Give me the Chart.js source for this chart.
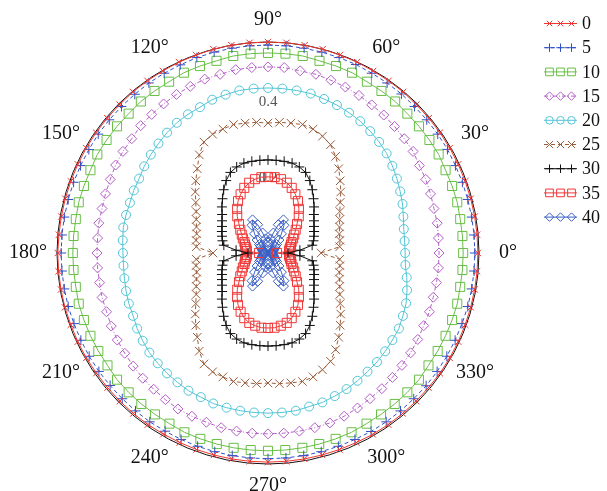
<!DOCTYPE html>
<html>
<head>
<meta charset="utf-8">
<script src="https://cdn.jsdelivr.net/npm/chart.js@4.4.1/dist/chart.umd.min.js"></script>
<style>html,body{margin:0;background:#fff}</style>
</head>
<body>
<canvas id="polar" width="607" height="491"></canvas>
<script>
// angles in degrees, counter-clockwise from the right (0..355)
const ANGLES = [
    0,5,10,15,20,25,30,35,40,45,50,55,
    60,65,70,75,80,85,90,95,100,105,110,115,
    120,125,130,135,140,145,150,155,160,165,170,175,
    180,185,190,195,200,205,210,215,220,225,230,235,
    240,245,250,255,260,265,270,275,280,285,290,295,
    300,305,310,315,320,325,330,335,340,345,350,355
];
const SERIES_NAMES = ['0','5','10','15','20','25','30','35','40'];

const s0 = [
    0.557,0.557,0.557,0.557,0.557,0.557,0.557,0.557,0.557,0.557,0.558,0.558,
    0.558,0.559,0.559,0.560,0.560,0.560,0.560,0.560,0.560,0.560,0.559,0.559,
    0.558,0.558,0.558,0.557,0.557,0.557,0.557,0.557,0.557,0.557,0.557,0.557,
    0.558,0.558,0.558,0.558,0.557,0.557,0.557,0.556,0.556,0.556,0.556,0.556,
    0.555,0.555,0.555,0.555,0.555,0.555,0.555,0.555,0.555,0.555,0.555,0.555,
    0.556,0.556,0.556,0.556,0.556,0.557,0.557,0.557,0.557,0.557,0.557,0.557
];
const s5 = [
    0.549,0.549,0.549,0.549,0.549,0.549,0.550,0.550,0.550,0.550,0.551,0.551,
    0.551,0.552,0.552,0.552,0.552,0.552,0.552,0.552,0.552,0.552,0.552,0.551,
    0.551,0.551,0.550,0.550,0.550,0.550,0.549,0.549,0.549,0.549,0.549,0.549,
    0.549,0.549,0.549,0.549,0.548,0.548,0.548,0.548,0.547,0.547,0.547,0.547,
    0.546,0.546,0.546,0.546,0.546,0.546,0.546,0.546,0.546,0.546,0.546,0.546,
    0.547,0.547,0.547,0.547,0.548,0.548,0.548,0.548,0.548,0.549,0.549,0.549
];
const s10 = [
    0.518,0.518,0.518,0.520,0.520,0.520,0.523,0.523,0.523,0.523,0.525,0.525,
    0.525,0.528,0.528,0.528,0.531,0.531,0.531,0.531,0.531,0.528,0.528,0.528,
    0.525,0.525,0.525,0.523,0.523,0.523,0.523,0.520,0.520,0.520,0.518,0.518,
    0.518,0.518,0.518,0.520,0.520,0.520,0.520,0.520,0.523,0.523,0.523,0.523,
    0.523,0.525,0.525,0.525,0.525,0.525,0.525,0.525,0.525,0.525,0.525,0.525,
    0.523,0.523,0.523,0.523,0.523,0.520,0.520,0.520,0.520,0.520,0.518,0.518
];
const s15 = [
    0.454,0.454,0.456,0.456,0.459,0.462,0.464,0.470,0.472,0.475,0.478,0.480,
    0.483,0.486,0.488,0.491,0.491,0.494,0.494,0.494,0.494,0.491,0.491,0.488,
    0.486,0.483,0.480,0.478,0.472,0.470,0.467,0.462,0.459,0.456,0.456,0.454,
    0.454,0.454,0.454,0.456,0.456,0.459,0.462,0.464,0.467,0.470,0.472,0.475,
    0.478,0.478,0.478,0.480,0.480,0.480,0.480,0.480,0.480,0.480,0.480,0.478,
    0.475,0.472,0.470,0.467,0.464,0.462,0.459,0.456,0.456,0.454,0.454,0.454
];
const s20 = [
    0.364,0.364,0.366,0.372,0.380,0.387,0.395,0.403,0.411,0.417,0.422,0.427,
    0.430,0.433,0.435,0.438,0.438,0.438,0.438,0.438,0.438,0.435,0.433,0.427,
    0.425,0.422,0.417,0.411,0.406,0.401,0.395,0.393,0.390,0.390,0.390,0.387,
    0.385,0.385,0.387,0.390,0.393,0.395,0.401,0.406,0.411,0.414,0.417,0.419,
    0.422,0.422,0.425,0.425,0.425,0.425,0.425,0.425,0.425,0.422,0.422,0.419,
    0.417,0.414,0.411,0.409,0.406,0.403,0.401,0.395,0.390,0.382,0.374,0.366
];
const s25 = [
    0.141,0.191,0.194,0.196,0.202,0.210,0.220,0.234,0.252,0.271,0.292,0.313,
    0.332,0.342,0.350,0.353,0.350,0.348,0.345,0.348,0.350,0.353,0.350,0.348,
    0.340,0.318,0.292,0.271,0.252,0.234,0.220,0.210,0.202,0.196,0.194,0.191,
    0.146,0.191,0.194,0.196,0.202,0.210,0.220,0.234,0.252,0.271,0.292,0.318,
    0.340,0.348,0.350,0.353,0.350,0.348,0.345,0.348,0.350,0.353,0.350,0.342,
    0.332,0.313,0.292,0.271,0.252,0.234,0.220,0.210,0.202,0.196,0.194,0.191
];
const s30 = [
    0.053,0.085,0.119,0.125,0.130,0.135,0.141,0.149,0.159,0.173,0.188,0.205,
    0.222,0.236,0.243,0.247,0.247,0.247,0.247,0.247,0.247,0.247,0.243,0.236,
    0.222,0.205,0.188,0.173,0.159,0.149,0.141,0.135,0.130,0.125,0.119,0.085,
    0.053,0.085,0.119,0.125,0.130,0.135,0.141,0.149,0.159,0.173,0.188,0.205,
    0.222,0.236,0.243,0.247,0.247,0.247,0.247,0.247,0.247,0.247,0.243,0.236,
    0.222,0.205,0.188,0.173,0.159,0.149,0.141,0.135,0.130,0.125,0.119,0.085
];
const s35 = [
    0.024,0.056,0.058,0.061,0.065,0.069,0.077,0.085,0.096,0.109,0.127,0.143,
    0.159,0.172,0.184,0.193,0.199,0.202,0.202,0.202,0.199,0.193,0.184,0.172,
    0.159,0.143,0.127,0.109,0.096,0.085,0.077,0.069,0.065,0.061,0.058,0.056,
    0.024,0.056,0.058,0.061,0.065,0.069,0.077,0.085,0.096,0.109,0.127,0.143,
    0.159,0.172,0.184,0.192,0.196,0.199,0.199,0.199,0.196,0.192,0.184,0.172,
    0.159,0.143,0.127,0.109,0.096,0.085,0.077,0.069,0.065,0.061,0.058,0.056
];
const s40 = [
    0.008,0.010,0.011,0.012,0.013,0.015,0.017,0.020,0.025,0.032,0.045,0.062,
    0.085,0.097,0.080,0.055,0.038,0.030,0.027,0.030,0.038,0.055,0.080,0.097,
    0.085,0.062,0.045,0.032,0.025,0.020,0.017,0.015,0.013,0.012,0.011,0.010,
    0.008,0.010,0.011,0.012,0.013,0.015,0.017,0.020,0.025,0.032,0.045,0.062,
    0.085,0.097,0.080,0.055,0.038,0.030,0.027,0.030,0.038,0.055,0.080,0.097,
    0.085,0.062,0.045,0.032,0.025,0.020,0.017,0.015,0.013,0.012,0.011,0.010
];
const SERIES = [s0, s5, s10, s15, s20, s25, s30, s35, s40];

const R_MAX = 0.56;
const R_TICKS = [0, 0.2, 0.4, 0.56];
const R_TICK_LABELS = { 0.2: '0.2', 0.4: '0.4' };
const ANGLE_TICKS = [0,30,60,90,120,150,180,210,240,270,300,330];

const styles = [
    { color: '#f0352e', point: 'crossRot', radius: 4.5, dash: [] },
    { color: '#2f50c4', point: 'cross', radius: 5, dash: [4,3] },
    { color: '#68bf45', point: 'rect', radius: 6.4, dash: [] },
    { color: '#b35ec6', point: 'rectRot', radius: 5, dash: [4,2,1,2] },
    { color: '#52c5d6', point: 'circle', radius: 4.5, dash: [] },
    { color: '#9a5d3b', point: 'crossRot', radius: 6, dash: [4,3] },
    { color: '#111111', point: 'cross', radius: 5, dash: [] },
    { color: '#f03838', point: 'rect', radius: 6.4, dash: [] },
    { color: '#3a5fc4', point: 'rectRot', radius: 5, dash: [] }
];

// radar starts at the top and runs clockwise: index i sits at 90 - 5i degrees
const N = ANGLES.length;
const TOP = ANGLES.indexOf(90);
const order = ANGLES.map((_, i) => ((TOP - i) % N + N) % N);
const labels = order.map(k => ANGLES[k] + '°');

const datasets = SERIES.map((vals, i) => ({
    label: SERIES_NAMES[i],
    data: order.map(k => vals[k]),
    borderColor: styles[i].color,
    backgroundColor: 'rgba(0,0,0,0)',
    borderWidth: 1,
    borderDash: styles[i].dash,
    fill: false,
    tension: 0,
    pointStyle: styles[i].point,
    pointRadius: styles[i].radius,
    pointHoverRadius: styles[i].radius,
    pointBorderColor: styles[i].color,
    pointBackgroundColor: 'rgba(0,0,0,0)',
    pointBorderWidth: 1
}));

function drawMarker(ctx, style, radius, x, y){
    if (Chart.helpers && Chart.helpers.drawPoint) {
        Chart.helpers.drawPoint(ctx, { pointStyle: style, radius, rotation: 0, borderWidth: 1 }, x, y);
        return;
    }
    ctx.beginPath();
    ctx.arc(x, y, radius, 0, Math.PI * 2);
    ctx.stroke();
}

const polarDecor = {
    id: 'polarDecor',
    afterDraw(chart){
        const r = chart.scales.r;
        const ctx = chart.ctx;
        ctx.save();
        ctx.fillStyle = '#111';
        ctx.font = '20px "Liberation Serif", serif';
        ctx.textAlign = 'center';
        ctx.textBaseline = 'middle';
        ANGLE_TICKS.forEach(a => {
            const idx = order.indexOf(ANGLES.indexOf(a));
            const d = r.drawingArea + 22 + 7 * Math.abs(Math.cos(a * Math.PI / 180));
            const p = r.getPointPosition(idx, d);
            ctx.fillText(a + '°', p.x, p.y);
        });

        // legend: short line with three markers, like the original
        ctx.font = '18px "Liberation Serif", serif';
        ctx.textAlign = 'left';
        chart.data.datasets.forEach((ds, k) => {
            const y = 23.5 + k * 24.2;
            ctx.strokeStyle = ds.borderColor;
            ctx.lineWidth = 1;
            ctx.setLineDash(ds.borderDash || []);
            ctx.beginPath();
            ctx.moveTo(544, y);
            ctx.lineTo(577, y);
            ctx.stroke();
            ctx.setLineDash([]);
            [549.5, 560.5, 571.5].forEach(x => {
                ctx.fillStyle = 'rgba(0,0,0,0)';
                ctx.strokeStyle = ds.borderColor;
                drawMarker(ctx, ds.pointStyle, ds.pointRadius * 0.85, x, y);
            });
            ctx.fillStyle = '#111';
            ctx.fillText(ds.label, 582, y + 1);
        });
        ctx.restore();
    }
};

Chart.defaults.font.family = '"Liberation Serif", serif';

new Chart(document.getElementById('polar').getContext('2d'), {
    type: 'radar',
    data: { labels, datasets },
    options: {
        responsive: false,
        animation: false,
        devicePixelRatio: 1,
        layout: { padding: { left: 50, top: 35, right: 120, bottom: 19 } },
        plugins: { legend: { display: false }, tooltip: { enabled: false } },
        scales: {
            r: {
                min: 0,
                max: R_MAX,
                startAngle: 0,
                angleLines: { display: false },
                pointLabels: { display: false },
                grid: {
                    circular: true,
                    lineWidth: 1,
                    color: c => (c.tick && c.tick.value >= R_MAX) ? '#111' : 'rgba(0,0,0,0)'
                },
                afterBuildTicks: scale => { scale.ticks = R_TICKS.map(v => ({ value: v })); },
                ticks: {
                    display: true,
                    showLabelBackdrop: false,
                    backdropPadding: 0,
                    color: '#555',
                    font: { size: 15, family: '"Liberation Serif", serif' },
                    callback: v => R_TICK_LABELS[v] || ''
                }
            }
        }
    },
    plugins: [polarDecor]
});
</script>
</body>
</html>
